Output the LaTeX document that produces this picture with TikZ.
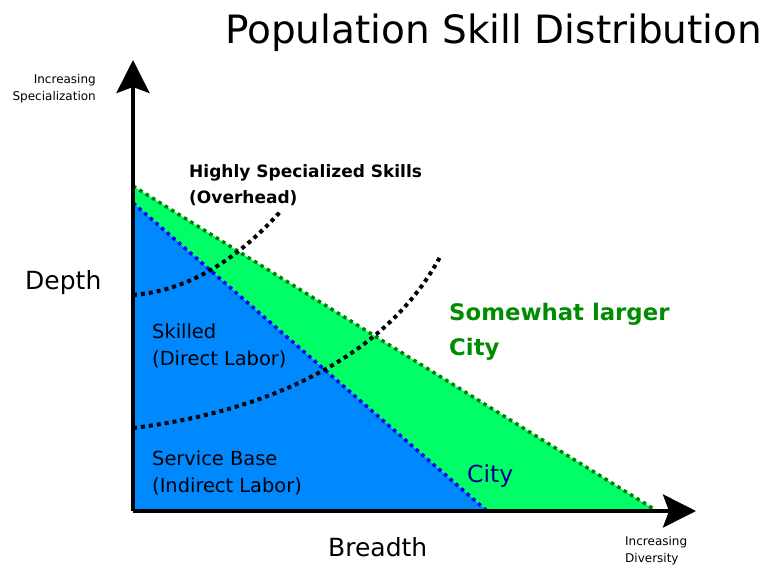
\documentclass[tikz,border=0pt]{standalone}
\usepackage{fontspec}
\setmainfont{DejaVu Sans}
\usetikzlibrary{arrows.meta}
\definecolor{fillblue}{RGB}{0,136,255}
\definecolor{fillgreen}{RGB}{0,255,102}
\definecolor{edgegreen}{RGB}{0,128,0}
\definecolor{edgeblue}{RGB}{0,0,255}
\definecolor{textgreen}{RGB}{0,140,0}
\definecolor{textnavy}{RGB}{0,0,140}
\tikzset{
  axis/.style={line width=4pt, -{Stealth[length=33pt,width=33pt,inset=6pt]}},
  zoneline/.style={line width=4pt, dash pattern=on 4pt off 4pt},
  edgeline/.style={line width=3.5pt, dash pattern=on 3.5pt off 4pt},
  txt/.style={inner sep=0pt, anchor=base west, align=left},
  smalltxt/.style={inner sep=0pt, font=\fontsize{12}{17}\selectfont},
}
\begin{document}
\begin{tikzpicture}[x=1pt,y=-1pt]
\useasboundingbox (0,0) rectangle (773,570);
% regions
\coordinate (O) at (133,511);
\coordinate (gtop) at (133,186);
\coordinate (gend) at (657,511);
\coordinate (btop) at (133,203);
\coordinate (bend) at (487,511);
\fill[fillgreen] (O) -- (gtop) -- (gend) -- cycle;
\draw[edgegreen, edgeline] (gtop) -- (gend);
\fill[fillblue] (O) -- (btop) -- (bend) -- cycle;
\draw[edgeblue, edgeline] (btop) -- (bend);
% dotted zone boundaries
\coordinate (c1s) at (133,295);
\coordinate (c1e) at (280,212);
\coordinate (c2s) at (133,428);
\coordinate (c2e) at (440,257);
\draw[zoneline] (c1s) .. controls (200,290) and (250,245) .. (c1e);
\draw[zoneline] (c2s) .. controls (280,410) and (390,350) .. (c2e);
% axes
\coordinate (ytip) at (133,60);
\coordinate (xtip) at (696,511);
\draw[axis] (O) -- (ytip);
\draw[axis] (O) -- (xtip);
% texts
\node[txt, font=\fontsize{39}{44}\selectfont] (title) at (225,43) {Population Skill Distribution};
\node[smalltxt, anchor=base east, align=right] (yl) at (96,100) {Increasing\\Specialization};
\node[smalltxt, anchor=base west, align=left] (xl) at (625,562) {Increasing\\Diversity};
\node[txt, font=\fontsize{25}{30}\selectfont] (depth) at (25,289) {Depth};
\node[txt, font=\fontsize{25}{30}\selectfont] (breadth) at (328,556) {Breadth};
\node[txt, font=\bfseries\fontsize{17}{26}\selectfont] (over) at (189,203) {Highly Specialized Skills\\(Overhead)};
\node[txt, font=\fontsize{19.4}{27}\selectfont] (skill) at (152,365) {Skilled\\(Direct Labor)};
\node[txt, font=\fontsize{19.4}{27}\selectfont] (serv) at (152,492) {Service Base\\(Indirect Labor)};
\node[txt, text=textgreen, font=\bfseries\fontsize{22.8}{35}\selectfont] (larger) at (449,355) {Somewhat larger\\City};
\node[txt, text=textnavy, font=\fontsize{23.5}{28}\selectfont] (city) at (467,482) {City};
\end{tikzpicture}
\end{document}
